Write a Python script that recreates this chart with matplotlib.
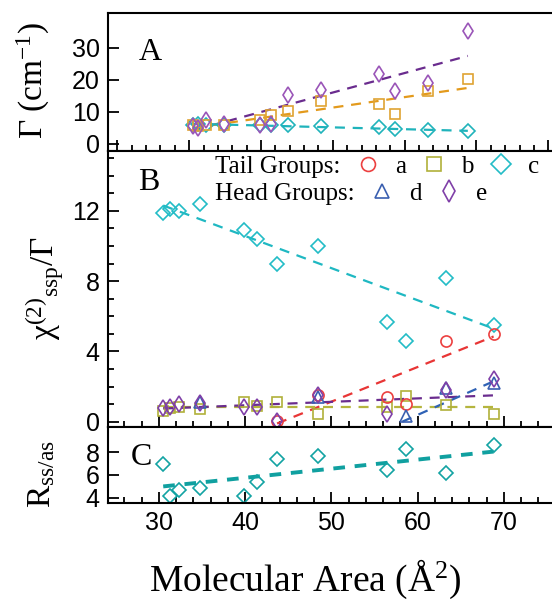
import matplotlib
matplotlib.use('Agg')
import matplotlib.pyplot as plt
from matplotlib.ticker import MultipleLocator, NullLocator
from matplotlib.lines import Line2D

plt.rcParams['font.family'] = ['Liberation Serif', 'DejaVu Serif']
plt.rcParams['mathtext.fontset'] = 'custom'
plt.rcParams['mathtext.rm'] = 'Liberation Serif'
plt.rcParams['mathtext.it'] = 'Liberation Serif:italic'

# molecular areas (A^2)
area = [30.5, 31.3, 32.3, 34.8, 39.9, 41.4, 43.7, 48.4, 56.4, 58.6, 63.3, 68.8]

# panel A: linewidth Gamma (cm-1)
gam_b = [5.8, 5.6, 6.0, 5.8, 7.5, 9.1, 10.3, 13.4, 12.5, 9.4, 16.6, 20.3]
gam_c = [6.0, 6.2, 6.0, 6.0, 5.9, 5.9, 5.8, 5.7, 5.3, 4.6, 4.4, 4.2]
gam_e = [5.5, 5.0, 7.5, 6.2, 5.8, 6.3, 15.3, 16.9, 21.9, 16.6, 19.1, 35.3]
fitA_x = [30.5, 68.8]
fitA_b = [5.0, 17.5]
fitA_c = [6.3, 4.1]
fitA_e = [4.2, 27.5]

# panel B: chi(2)ssp / Gamma
a_x = [43.7, 48.4, 56.4, 58.6, 63.3, 68.8]
a_y = [0.05, 1.5, 1.4, 1.0, 4.6, 5.0]
b_y = [0.6, 0.8, 0.85, 0.75, 1.1, 0.9, 1.15, 0.45, 0.85, 1.45, 0.95, 0.45]
c_y = [11.9, 12.1, 12.0, 12.4, 10.9, 10.4, 9.0, 10.0, 5.7, 4.6, 8.2, 5.5]
d_x = [34.8, 48.4, 58.6, 63.3, 68.8]
d_y = [1.1, 1.4, 0.3, 1.9, 2.2]
e_x = [30.5, 31.3, 32.3, 34.8, 39.9, 41.4, 43.7, 48.4, 56.4, 63.3, 68.8]
e_y = [0.8, 0.85, 1.0, 1.05, 0.85, 0.85, 0.05, 1.5, 0.45, 1.8, 2.45]
fitB_a = ([43.7, 68.8], [-0.1, 4.85])
fitB_b = ([30.5, 68.8], [0.85, 0.85])
fitB_c = ([30.5, 68.8], [12.3, 5.3])
fitB_d = ([58.2, 68.8], [0.0, 2.3])
fitB_e = ([30.5, 68.8], [0.75, 1.5])

# panel C: R ss/as
r_y = [7.0, 4.2, 4.7, 4.9, 4.15, 5.4, 7.4, 7.7, 6.4, 8.3, 6.2, 8.6]
fitC = ([30.5, 68.8], [5.0, 8.05])

W, H = 552, 600
fig = plt.figure(figsize=(W / 100, H / 100), dpi=100)

def box(top, bottom):
    return [108 / W, 1 - bottom / H, (554 - 108) / W, (bottom - top) / H]

axA = fig.add_axes(box(13, 151))
axB = fig.add_axes(box(151, 427))
axC = fig.add_axes(box(427, 503))

dash = (0, (4.5, 3.5))
mk = dict(linestyle='none', markerfacecolor='none', markeredgewidth=1.2)

# --- panel A
axA.plot(fitA_x, fitA_e, color='#6a2c8e', lw=1.6, ls=dash)
axA.plot(fitA_x, fitA_b, color='#e39a1c', lw=1.6, ls=dash)
axA.plot(fitA_x, fitA_c, color='#1fb3bb', lw=1.6, ls=dash)
axA.plot(area, gam_c, marker='D', ms=7, markeredgecolor='#1fb3bb', **mk)
axA.plot(area, gam_b, marker='s', ms=7.5, markeredgecolor='#dfa332', **mk)
axA.plot(area, gam_e, marker='d', ms=8, markeredgecolor='#9a55b8', **mk)
axA.set_xlim(18.7, 80.8)
axA.set_ylim(-2.2, 40.9)
axA.set_yticks([0, 10, 20, 30])
axA.yaxis.set_minor_locator(NullLocator())
axA.text(0.07, 0.66, 'A', transform=axA.transAxes, fontsize=23, va='baseline')

# --- panel B
axB.plot(*fitB_c, color='#1fb8c2', lw=1.6, ls=dash)
axB.plot(*fitB_a, color='#e83535', lw=1.6, ls=dash)
axB.plot(*fitB_b, color='#b5b53e', lw=1.6, ls=dash)
axB.plot(*fitB_e, color='#6a2c8e', lw=1.6, ls=dash)
axB.plot(*fitB_d, color='#2f62b5', lw=1.6, ls=dash)
axB.plot(area, c_y, marker='D', ms=7.5, markeredgecolor='#22bcc6', **mk)
axB.plot(area, b_y, marker='s', ms=7.5, markeredgecolor='#b0b03a', **mk)
axB.plot(a_x, a_y, marker='o', ms=8, markeredgecolor='#ec4040', **mk)
axB.plot(d_x, d_y, marker='^', ms=8, markeredgecolor='#3a5fb0', **mk)
axB.plot(e_x, e_y, marker='d', ms=8, markeredgecolor='#8040a8', **mk)
axB.set_xlim(24.1, 75.8)
axB.set_ylim(-0.3, 15.4)
axB.set_yticks([0, 4, 8, 12])
axB.yaxis.set_minor_locator(MultipleLocator(1))
axB.text(0.068, 0.859, 'B', transform=axB.transAxes, fontsize=23, va='baseline')

def key(marker, color, ms):
    return Line2D([], [], marker=marker, ms=ms, color=color, **mk)

blank = Line2D([], [], linestyle='none')
leg_kw = dict(frameon=False, fontsize=18, handlelength=1.0, handletextpad=0.58,
              columnspacing=0.6, borderpad=0, borderaxespad=0, numpoints=1,
              loc='upper left')
leg1 = axB.legend([blank, key('o', '#ec4040', 10), key('s', '#b0b03a', 10), key('D', '#22bcc6', 10)],
                  ['Tail Groups:', 'a', 'b', 'c'], ncol=4,
                  bbox_to_anchor=(0.152, 0.985), **leg_kw)
axB.add_artist(leg1)
axB.legend([blank, key('^', '#3a5fb0', 10), key('d', '#8040a8', 11)],
           ['Head Groups:', 'd', 'e'], ncol=3,
           bbox_to_anchor=(0.152, 0.885), **leg_kw)

# --- panel C
axC.plot(*fitC, color='#10a0a0', lw=2.8, ls=(0, (3, 2.5)))
axC.plot(area, r_y, marker='D', ms=7, markeredgecolor='#12a3a3', **mk)
axC.set_xlim(24.1, 75.8)
axC.set_ylim(3.55, 10.2)
axC.set_yticks([4, 6, 8])
axC.yaxis.set_minor_locator(NullLocator())
axC.text(0.05, 0.5, 'C', transform=axC.transAxes, fontsize=23, va='baseline')

for ax in (axA, axB, axC):
    ax.xaxis.set_major_locator(MultipleLocator(10))
    ax.xaxis.set_minor_locator(MultipleLocator(2))
    ax.tick_params(which='both', direction='in', top=False, right=False, width=1.3,
                   labelsize=18, labelfontfamily='Liberation Sans', pad=6)
    ax.tick_params(which='major', length=8)
    ax.tick_params(which='minor', length=4.5)
    for s in ax.spines.values():
        s.set_linewidth(1.5)
axA.tick_params(labelbottom=False)
axB.tick_params(labelbottom=False)

fig.text(33 / W, 1 - 80 / H, 'Γ (cm$^{-1}$)', rotation=90, ha='center', va='center', fontsize=24)
fig.text(45 / W, 1 - 288 / H, r'$\mathrm{\chi}^{(2)}{}_{\mathrm{ssp}}/\mathrm{\Gamma}$', rotation=90,
         ha='center', va='center', fontsize=24)
fig.text(42 / W, 1 - 474 / H, r'R$_{\mathrm{ss/as}}$', rotation=90, ha='center', va='center', fontsize=24)
fig.text(305 / W, 1 - 591 / H, 'Molecular Area (Å$^{2}$)', ha='center', va='baseline', fontsize=27)

fig.savefig('out.png', dpi=100)
